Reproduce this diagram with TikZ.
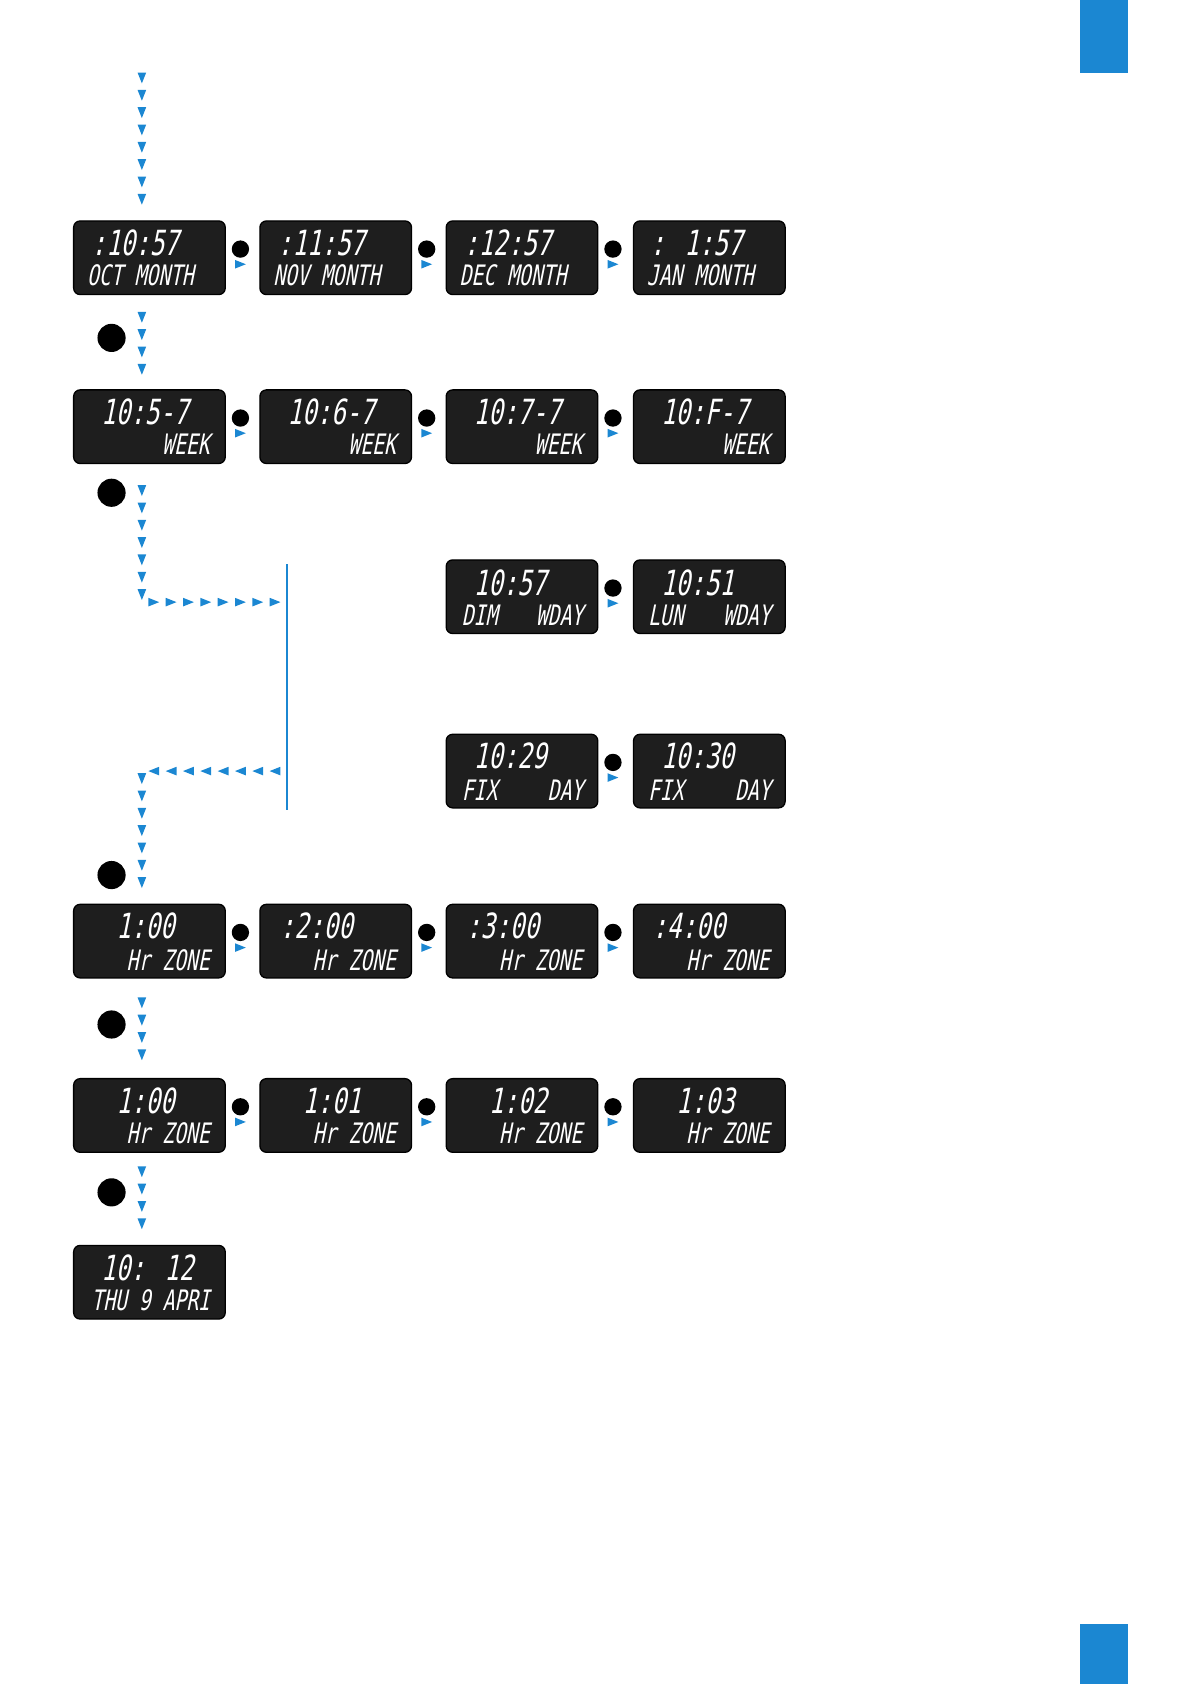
\documentclass[tikz,border=0pt]{standalone}
\usepackage{fontspec}
\newfontfamily\lcd{DejaVu Sans Mono}[FakeSlant=0.2,FakeStretch=0.7]
\definecolor{bl}{HTML}{1B87D2}
\definecolor{lc}{HTML}{1E1E1E}
\tikzset{
 lcdbox/.style={draw=black,fill=lc,rounded corners=3,line width=0.6pt},
 big/.style={text=white,font=\lcd\fontsize{16}{16}\selectfont,inner sep=0,anchor=base west},
 small/.style={text=white,font=\lcd\fontsize{13}{13}\selectfont,inner sep=0,anchor=base west},
 smallr/.style={small,anchor=base east},
 bdot/.style={fill=black,circle,inner sep=0,minimum size=13pt},
 sdot/.style={fill=black,circle,inner sep=0,minimum size=8pt},
}
\newcommand{\dtri}[2]{\fill[bl] (#1-4,#2-5) -- (#1+4,#2-5) -- (#1,#2+5) -- cycle;}
\newcommand{\rtri}[2]{\fill[bl] (#1-5,#2-4) -- (#1-5,#2+4) -- (#1+5,#2) -- cycle;}
\newcommand{\ltri}[2]{\fill[bl] (#1+5,#2-4) -- (#1+5,#2+4) -- (#1-5,#2) -- cycle;}
\newcommand{\sep}[2]{\node[sdot] at (#1,#2+26) {}; \rtri{#1}{#2+40}}
\begin{document}
\begin{tikzpicture}[x=0.5pt,y=-0.5pt]
\useasboundingbox (0,0) rectangle (1100,1555);
\fill[bl] (997,0) rectangle (1042,67);
\fill[bl] (997,1500) rectangle (1042,1555);
\foreach \y in {72,88,...,190} {\dtri{131}{\y}}
\foreach \y in {293,309,325,341} {\dtri{131}{\y}}
\foreach \y in {453,469,...,553} {\dtri{131}{\y}}
\foreach \x in {142,158,...,255} {\rtri{\x}{556}}
\draw[bl,line width=1.2pt] (265,521) -- (265,748);
\foreach \x in {142,158,...,255} {\ltri{\x}{712}}
\foreach \y in {719,735,...,823} {\dtri{131}{\y}}
\foreach \y in {926,942,958,974} {\dtri{131}{\y}}
\foreach \y in {1082,1098,1114,1130} {\dtri{131}{\y}}
\foreach \y in {312,455,808,946,1101} {\node[bdot] at (103,\y) {};}
\foreach \yy in {204,360,835,996} {
 \foreach \xx in {68,240,412,585} {\draw[lcdbox] (\xx,\yy) rectangle ++(140,68);}
 \foreach \xx in {222,394,566} {\sep{\xx}{\yy}}
}
\foreach \yy in {517,678} {
 \foreach \xx in {412,585} {\draw[lcdbox] (\xx,\yy) rectangle ++(140,68);}
 \sep{566}{\yy}
}
\draw[lcdbox] (68,1150) rectangle ++(140,68);
\node[big] at (84,236) {:10:57}; \node[small] at (80,264) {OCT MONTH};
\node[big] at (256,236) {:11:57}; \node[small] at (252,264) {NOV MONTH};
\node[big] at (428,236) {:12:57}; \node[small] at (424,264) {DEC MONTH};
\node[big] at (600,236) {: 1:57}; \node[small] at (597,264) {JAN MONTH};
\node[big] at (93,392) {10:5-7}; \node[smallr] at (194,420) {WEEK};
\node[big] at (265,392) {10:6-7}; \node[smallr] at (366,420) {WEEK};
\node[big] at (437,392) {10:7-7}; \node[smallr] at (538,420) {WEEK};
\node[big] at (610,392) {10:F-7}; \node[smallr] at (711,420) {WEEK};
\node[big] at (437,550) {10:57}; \node[small] at (426,578) {DIM};\node[smallr] at (539,578) {WDAY};
\node[big] at (610,550) {10:51}; \node[small] at (598,578) {LUN};\node[smallr] at (712,578) {WDAY};
\node[big] at (437,710) {10:29}; \node[small] at (426,739) {FIX};\node[smallr] at (539,739) {DAY};
\node[big] at (610,710) {10:30}; \node[small] at (598,739) {FIX};\node[smallr] at (712,739) {DAY};
\node[big] at (107,867) {1:00}; \node[smallr] at (194,896) {Hr ZONE};
\node[big] at (258,867) {:2:00}; \node[smallr] at (366,896) {Hr ZONE};
\node[big] at (430,867) {:3:00}; \node[smallr] at (538,896) {Hr ZONE};
\node[big] at (602,867) {:4:00}; \node[smallr] at (711,896) {Hr ZONE};
\node[big] at (107,1028) {1:00}; \node[smallr] at (194,1056) {Hr ZONE};
\node[big] at (279,1028) {1:01}; \node[smallr] at (366,1056) {Hr ZONE};
\node[big] at (451,1028) {1:02}; \node[smallr] at (538,1056) {Hr ZONE};
\node[big] at (624,1028) {1:03}; \node[smallr] at (711,1056) {Hr ZONE};
\node[big] at (93,1182) {10: 12}; \node[small] at (84,1210) {THU  9 APRI};
\end{tikzpicture}
\end{document}
